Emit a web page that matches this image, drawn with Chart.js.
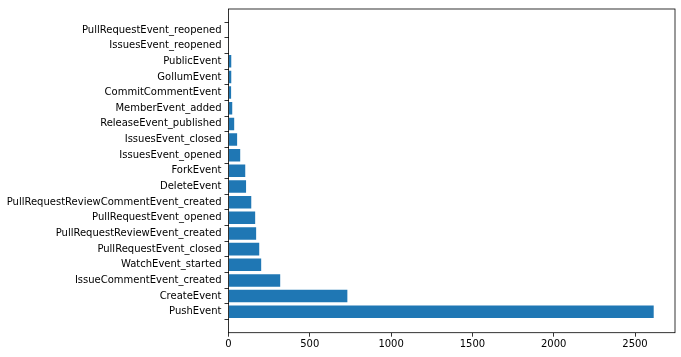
<!DOCTYPE html>
<html>
<head>
<meta charset="utf-8">
<script src="https://cdn.jsdelivr.net/npm/chart.js@4"></script>
<style>
  html, body { margin: 0; padding: 0; background: #fff; }
  #wrap { width: 681px; height: 357px; }
</style>
</head>
<body>
<div id="wrap"><canvas id="chart" width="681" height="357"></canvas></div>
<script>
// bottom to top, like matplotlib barh
const events = [
    'PushEvent', 'CreateEvent', 'IssueCommentEvent_created', 'WatchEvent_started',
    'PullRequestEvent_closed', 'PullRequestReviewEvent_created', 'PullRequestEvent_opened',
    'PullRequestReviewCommentEvent_created', 'DeleteEvent', 'ForkEvent',
    'IssuesEvent_opened', 'IssuesEvent_closed', 'ReleaseEvent_published',
    'MemberEvent_added', 'CommitCommentEvent', 'GollumEvent', 'PublicEvent',
    'IssuesEvent_reopened', 'PullRequestEvent_reopened'
];
const counts = [2615, 731, 318, 201, 189, 170, 164, 140, 108, 103, 72, 53, 35, 23, 16, 17, 17, 2, 1];
const xTicks = [0, 500, 1000, 1500, 2000, 2500];

const font = { family: 'DejaVu Sans', size: 10 };

// draws the four spines round the plot area
const frame = {
    id: 'frame',
    afterDraw(chart) {
        const { ctx, chartArea: a } = chart;
        ctx.save();
        ctx.strokeStyle = '#000';
        ctx.lineWidth = 0.8;
        ctx.strokeRect(a.left, a.top, a.right - a.left, a.bottom - a.top);
        ctx.restore();
    }
};

new Chart(document.getElementById('chart'), {
    type: 'bar',
    data: {
        datasets: [{
            data: counts.map((v, i) => ({ x: v, y: i })),
            backgroundColor: '#1f77b4',
            borderWidth: 0,
            barPercentage: 0.8,
            categoryPercentage: 1
        }]
    },
    options: {
        indexAxis: 'y',
        responsive: false,
        animation: false,
        layout: { padding: { left: 0, top: 7, right: 6, bottom: 0 } },
        plugins: { legend: { display: false }, tooltip: { enabled: false } },
        scales: {
            x: {
                type: 'linear',
                min: 0,
                max: 2746,
                afterBuildTicks: s => { s.ticks = xTicks.map(v => ({ value: v })); },
                afterFit: s => { s.height = 24.3; },
                grid: { drawOnChartArea: false, drawTicks: true, tickLength: 4, tickColor: '#000', tickWidth: 0.8 },
                border: { display: false },
                ticks: { color: '#000', font, padding: 2, maxRotation: 0, callback: v => String(v) }
            },
            y: {
                type: 'linear',
                offset: false,
                min: -1.34,
                max: events.length - 1 + 1.34,
                afterBuildTicks: s => { s.ticks = events.map((_, i) => ({ value: i })); },
                afterFit: s => { s.width = 228.5; },
                grid: { drawOnChartArea: false, drawTicks: true, tickLength: 4, tickColor: '#000', tickWidth: 0.8 },
                border: { display: false },
                ticks: {
                    color: '#000', font, padding: 3, autoSkip: false,
                    callback: v => events[v]
                }
            }
        }
    },
    plugins: [frame]
});
</script>
</body>
</html>
